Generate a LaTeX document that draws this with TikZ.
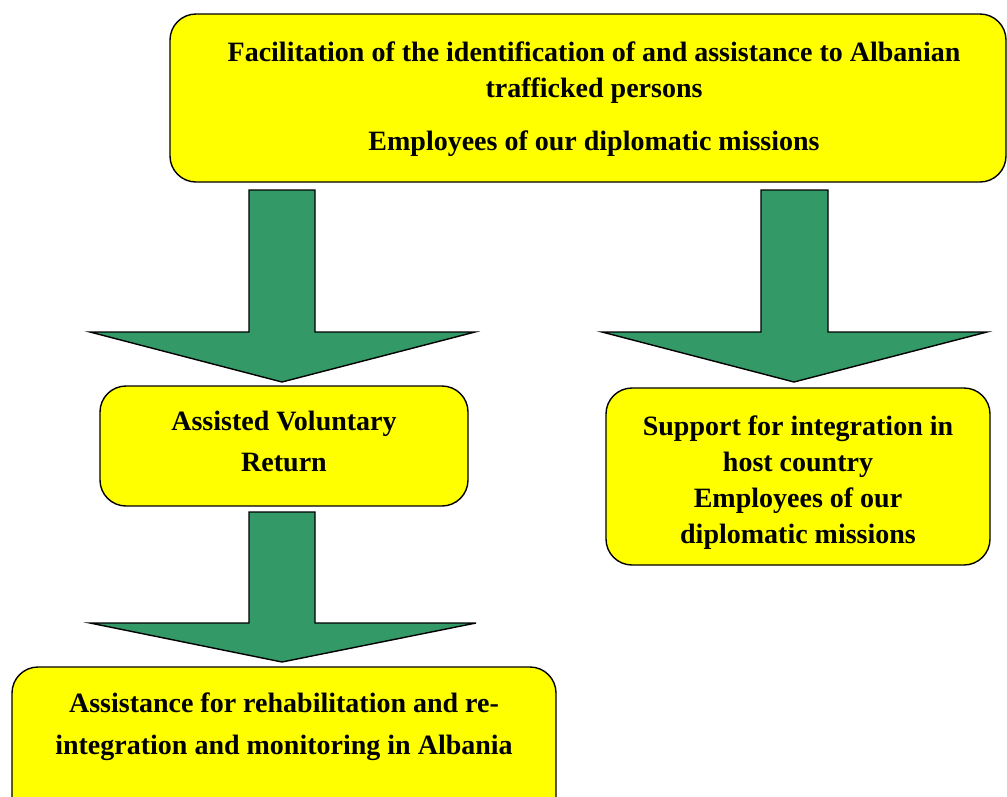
\documentclass[tikz,border=0pt]{standalone}
\usepackage{fontspec}
\setmainfont{Liberation Serif}
\definecolor{arrowgreen}{RGB}{51,153,102}
\definecolor{boxyellow}{RGB}{255,255,0}
\begin{document}
\begin{tikzpicture}[x=1pt,y=-1pt,
  box/.style={draw=black, line width=1.4pt, fill=boxyellow, rounded corners=26pt, inner sep=0pt},
  blockarrow/.style={draw=black, line width=1.4pt, fill=arrowgreen, line join=miter},
  lbl/.style={font=\bfseries\fontsize{28}{36}\selectfont, align=center, inner sep=0pt}]
\useasboundingbox (0,0) rectangle (1007,796);
\begin{scope}
\clip (0,0) rectangle (1007,796);
% boxes
\node[box, minimum width=836pt, minimum height=168pt] (top) at (588,98) {};
\node[box, minimum width=368pt, minimum height=120pt] (avr) at (284,446) {};
\node[box, minimum width=384pt, minimum height=177pt] (sup) at (798,476.5) {};
\node[box, minimum width=544pt, minimum height=170pt] (reh) at (284,752) {};
% texts
\node[lbl] (ttop) at (594,99) {Facilitation of the identification of and assistance to Albanian\\ trafficked persons\\[17pt] Employees of our diplomatic missions};
\node[lbl, font=\bfseries\fontsize{28}{41}\selectfont] (tavr) at (284,441) {Assisted Voluntary\\ Return};
\node[lbl] (tsup) at (798,483) {Support for integration in\\ host country\\ Employees of our\\ diplomatic missions};
\node[lbl, font=\bfseries\fontsize{28}{42}\selectfont] (treh) at (284,727) {Assistance for rehabilitation and re-\\ integration and monitoring in Albania};
% block arrows
\draw[blockarrow] (249,190) -- (315,190) -- (315,332) -- (475,332) -- (282,382) -- (90,332) -- (249,332) -- cycle;
\draw[blockarrow] (761,190) -- (828,190) -- (828,332) -- (987,332) -- (794,382) -- (602,332) -- (761,332) -- cycle;
\draw[blockarrow] (249,512) -- (315,512) -- (315,623) -- (476,623) -- (282,662) -- (90,623) -- (249,623) -- cycle;
\end{scope}
\end{tikzpicture}
\end{document}
